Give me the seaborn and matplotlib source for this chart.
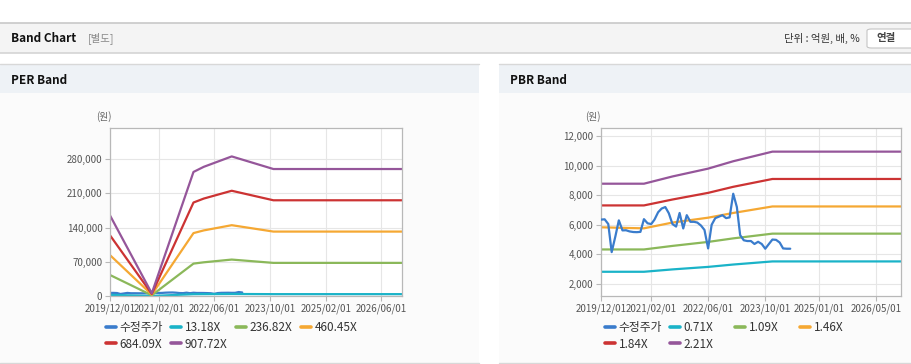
import numpy as np
import pandas as pd
import seaborn as sns
import matplotlib.pyplot as plt
from matplotlib.patches import Rectangle, FancyBboxPatch
from matplotlib.lines import Line2D

# ---- data ----
per_dates = ['2019-12-01', '2020-12-01', '2021-12-01', '2022-03-01', '2022-11-01', '2023-11-01', '2026-12-01']
per_13 = [2400, 80, 3700, 3850, 4150, 3800, 3800]
per_236 = [43000, 1450, 66300, 69000, 74600, 67800, 67800]
per_460 = [83700, 2800, 128800, 134300, 145000, 131900, 131900]
per_684 = [124300, 4200, 191400, 199500, 215500, 196000, 196000]
per_907 = [165000, 5500, 254000, 264500, 285800, 260000, 260000]
per_labels = ['수정주가', '13.18X', '236.82X', '460.45X', '684.09X', '907.72X']

pbr_dates = ['2019-12-01', '2020-08-01', '2020-12-01', '2021-08-01', '2022-06-01', '2023-01-01', '2023-12-01', '2026-12-01']
pbr_071 = [2820, 2820, 2820, 2980, 3150, 3310, 3520, 3520]
pbr_109 = [4330, 4330, 4330, 4570, 4840, 5080, 5400, 5400]
pbr_146 = [5830, 5780, 5760, 6150, 6480, 6800, 7240, 7240]
pbr_184 = [7310, 7310, 7310, 7710, 8160, 8570, 9100, 9100]
pbr_221 = [8780, 8780, 8780, 9270, 9800, 10300, 10950, 10950]
pbr_labels = ['수정주가', '0.71X', '1.09X', '1.46X', '1.84X', '2.21X']

# monthly adjusted price, 2019/12 ~ 2024/05
price = [6350, 6370, 6050, 4150, 5200, 6300, 5620, 5630, 5550, 5510, 5500, 5520,
         6380, 6100, 6050, 6350, 6850, 7100, 7200, 6780, 6050, 5880, 6800, 5750,
         6650, 6200, 6200, 6150, 5950, 5650, 4400, 6000, 6450, 6550, 6650, 6450,
         6500, 8100, 7200, 5300, 4950, 4900, 4900, 4700, 4850, 4700, 4380, 4700,
         5000, 4980, 4800, 4400, 4380, 4380]
price_start = '2019-12-01'
per_price_end = '2023-02-01'

per_ticks = ['2019/12/01', '2021/02/01', '2022/06/01', '2023/10/01', '2025/02/01', '2026/06/01']
pbr_ticks = ['2019/12/01', '2021/02/01', '2022/06/01', '2023/10/01', '2025/01/01', '2026/05/01']
per_yticks = [0, 70000, 140000, 210000, 280000]
pbr_yticks = [2000, 4000, 6000, 8000, 10000, 12000]

colors = ['#3a7ccc', '#1ab3c8', '#8bb85a', '#f5a833', '#cc3333', '#95569a']

sns.set_theme(style='white')
plt.rcParams['font.family'] = ['Noto Sans CJK KR', 'DejaVu Sans']

W, H = 912, 364
fig = plt.figure(figsize=(W / 100, H / 100), dpi=100)
fig.patch.set_facecolor('white')


def fx(x):
    return x / W


def fy(y):
    return 1 - y / H


def rect(x0, y0, x1, y1, fc, ec='none', lw=0):
    fig.add_artist(Rectangle((fx(x0), fy(y1)), fx(x1) - fx(x0), fy(y0) - fy(y1),
                             transform=fig.transFigure, facecolor=fc, edgecolor=ec, linewidth=lw, zorder=0))


def hline(y, x0, x1, c, lw=1):
    fig.add_artist(Line2D([fx(x0), fx(x1)], [fy(y), fy(y)], transform=fig.transFigure, color=c, linewidth=lw, zorder=1))


# page furniture
rect(0, 23, 912, 53, '#f4f4f4')
hline(23, 0, 912, '#c8c8c8', 1.2)
hline(53, 0, 912, '#d4d4d4', 1.2)
fig.text(fx(11), fy(38), 'Band Chart', fontsize=8.5, fontweight='bold', color='#111', va='center')
fig.text(fx(88), fy(38), '[별도]', fontsize=7.5, color='#888', va='center')
fig.text(fx(860), fy(38), '단위 : 억원, 배, %', fontsize=7.5, color='#333', va='center', ha='right')
fig.add_artist(FancyBboxPatch((fx(867), fy(48)), fx(60), fy(0) - fy(19), boxstyle='round,pad=0,rounding_size=0.005',
                              transform=fig.transFigure, facecolor='white', edgecolor='#c4c4c4', linewidth=0.8, zorder=1))
fig.text(fx(886), fy(38), '연결', fontsize=7.5, color='#444', va='center', ha='center', fontweight='bold')

for (a, b, title) in [(0, 479, 'PER Band'), (499, 912, 'PBR Band')]:
    rect(a, 64, b, 364, '#fbfbfb')
    rect(a, 64, b, 93, '#eef2f6')
    hline(64, a, b, '#d8d8d8', 1)
    hline(363, a, b, '#d8d8d8', 1)
    fig.text(fx(a + 11), fy(80), title, fontsize=8.5, fontweight='bold', color='#111', va='center')


def style_axes(ax, xticks, yticks, ylim, xlabels):
    ax.set_facecolor('white')
    ax.set_xlim(pd.Timestamp('2019-12-01'), pd.Timestamp('2026-12-01'))
    ax.set_ylim(*ylim)
    ax.set_xticks(pd.to_datetime(xticks))
    ax.set_xticklabels(xlabels)
    ax.set_yticks(yticks)
    ax.set_yticklabels([f'{v:,}' for v in yticks])
    ax.set_xlabel('')
    ax.set_ylabel('')
    ax.grid(True, color='#e6e6e6', linewidth=0.8)
    ax.set_axisbelow(True)
    for s in ax.spines.values():
        s.set_color('#b8b8b8')
        s.set_linewidth(0.9)
    ax.tick_params(axis='both', labelsize=7, labelcolor='#555', length=3.5, width=0.8,
                   color='#b8b8b8', pad=2, bottom=True, left=True)


def band_legend(ax, x0, y0):
    handles, labels = ax.get_legend_handles_labels()
    if ax.get_legend() is not None:
        ax.get_legend().remove()
    for j in range(4):
        idx = [i for i in range(len(handles)) if i % 4 == j]
        leg = ax.legend([handles[i] for i in idx], [labels[i] for i in idx], loc='upper left',
                        bbox_to_anchor=(fx(x0 + 65 * j), fy(y0)), bbox_transform=fig.transFigure,
                        frameon=False, fontsize=8.5, handlelength=0.85, handletextpad=0.3,
                        borderpad=0, borderaxespad=0, labelspacing=0.3, labelcolor='#333')
        for h in leg.legend_handles:
            h.set_linewidth(2.6)
        if j < 3:
            ax.add_artist(leg)


price_dates = pd.date_range(price_start, periods=len(price), freq='MS')
price_s = pd.Series(price, index=price_dates)

# ---- PER band ----
ax1 = fig.add_axes([fx(110), fy(296), fx(292), fy(0) - fy(168)])
per_x = pd.to_datetime(per_dates)
per_price = price_s[:per_price_end]
sns.lineplot(x=per_price.index, y=per_price.values, color=colors[0], label=per_labels[0], linewidth=1.6, ax=ax1)
for vals, c, lab in zip([per_13, per_236, per_460, per_684, per_907], colors[1:], per_labels[1:]):
    sns.lineplot(x=per_x, y=vals, color=c, label=lab, linewidth=1.6, ax=ax1)
style_axes(ax1, [t.replace('/', '-') for t in per_ticks], per_yticks, (0, 344000), per_ticks)
fig.text(fx(104), fy(117), '(원)', fontsize=7, color='#666', va='center', ha='center')
band_legend(ax1, 106, 321)

# ---- PBR band ----
ax2 = fig.add_axes([fx(601), fy(296), fx(300), fy(0) - fy(168)])
pbr_x = pd.to_datetime(pbr_dates)
sns.lineplot(x=price_s.index, y=price_s.values, color=colors[0], label=pbr_labels[0], linewidth=1.6, ax=ax2, zorder=5)
for vals, c, lab in zip([pbr_071, pbr_109, pbr_146, pbr_184, pbr_221], colors[1:], pbr_labels[1:]):
    sns.lineplot(x=pbr_x, y=vals, color=c, label=lab, linewidth=1.6, ax=ax2)
style_axes(ax2, [t.replace('/', '-') for t in pbr_ticks], pbr_yticks, (1180, 12550), pbr_ticks)
fig.text(fx(593), fy(117), '(원)', fontsize=7, color='#666', va='center', ha='center')
band_legend(ax2, 605, 321)

fig.savefig('out.png', dpi=100)
